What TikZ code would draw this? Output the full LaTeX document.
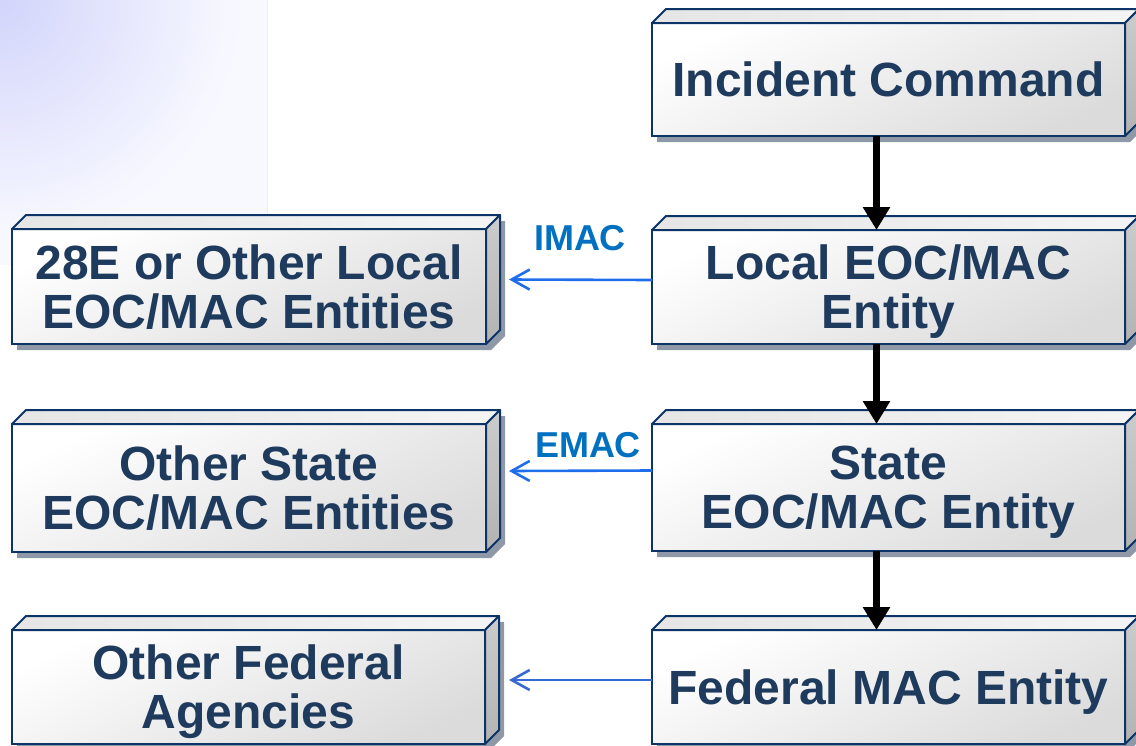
\documentclass[tikz,border=0pt]{standalone}
\usepackage{fontspec}
\setmainfont{Liberation Sans}
\usetikzlibrary{arrows.meta,backgrounds,calc}
\definecolor{navyline}{RGB}{12,52,102}
\definecolor{navytext}{RGB}{30,58,92}
\definecolor{labelblue}{RGB}{0,112,192}
\definecolor{arrowblue}{RGB}{30,110,235}
\definecolor{arrowblueb}{RGB}{55,105,210}
\definecolor{shadowgray}{RGB}{142,152,166}
\definecolor{lavA}{RGB}{210,212,251}
\definecolor{lavC}{RGB}{248,249,255}
\definecolor{lavline}{RGB}{236,238,248}
\tikzset{
 frontface/.style={draw=navyline, line width=2pt, top color=white, bottom color=black!14, shading angle=25, inner sep=0pt, outer sep=0pt, anchor=north west, align=center, text depth=0pt, text=navytext, font=\bfseries\fontsize{48}{49}\selectfont},
 topface/.style={draw=navyline, line width=2pt, line join=round, left color=black!10, right color=black!4},
 sideface/.style={draw=navyline, line width=2pt, line join=round, top color=black!20, bottom color=black!30},
 shadowface/.style={fill=shadowgray},
 flow/.style={line width=6.5pt, -{Triangle[length=23pt,width=26pt]}},
 assist/.style={line width=2.6pt, draw=arrowblue, -{Straight Barb[length=18pt,width=20pt,line width=2.6pt]}},
 lbl/.style={text=labelblue, font=\bfseries\fontsize{36}{38}\selectfont, inner sep=0pt}
}
\newcommand{\cubebox}[6]{%
  \node[frontface, minimum width=#4pt, minimum height=#5pt] (#1) at (#2,#3) {#6};
  \begin{pgfonlayer}{background}
    \fill[shadowface] ([shift={(5,6)}]#1.south west) -- ([shift={(5,6)}]#1.north west) -- ([shift={(19,-8)}]#1.north west) -- ([shift={(19,-8)}]#1.north east) -- ([shift={(19,-8)}]#1.south east) -- ([shift={(5,6)}]#1.south east) -- cycle;
  \end{pgfonlayer}
  \draw[topface] (#1.north west) -- ([shift={(14,-14)}]#1.north west) -- ([shift={(14,-14)}]#1.north east) -- (#1.north east) -- cycle;
  \draw[sideface] (#1.north east) -- ([shift={(14,-14)}]#1.north east) -- ([shift={(14,-14)}]#1.south east) -- (#1.south east) -- cycle;
}
\begin{document}
\begin{tikzpicture}[x=1pt,y=-1pt]
\useasboundingbox (0,0) rectangle (1136,745);
\begin{pgfonlayer}{background}
  \begin{scope}
    \clip (0,0) rectangle (267,265);
    \fill[lavC] (0,0) rectangle (267,265);
    \foreach \r in {240,236,...,4} {
      \pgfmathsetmacro\p{100*(1-\r/244)}
      \fill[lavA!\p!lavC] (0,0) circle (\r pt);
    }
  \end{scope}
  \draw[lavline, line width=0.8pt] (267,0) -- (267,265);
\end{pgfonlayer}

\cubebox{ic}{652}{23}{473}{113}{Incident Command}
\cubebox{local}{652}{230}{473}{114}{Local EOC/MAC\\Entity}
\cubebox{state}{652}{424}{473}{127}{State\\EOC/MAC Entity}
\cubebox{fed}{652}{630}{473}{114}{Federal MAC Entity}
\cubebox{lcl}{12}{229}{474}{115}{28E or Other Local\\EOC/MAC Entities}
\cubebox{ost}{12}{424}{474}{128}{Other State\\EOC/MAC Entities}
\cubebox{ofa}{12}{630}{473}{114}{Other Federal\\Agencies}

\draw[flow] ([xshift=-12pt]ic.south) -- ([xshift=-12pt]local.north);
\draw[flow] ([xshift=-12pt]local.south) -- ([xshift=-12pt]state.north);
\draw[flow] ([xshift=-12pt]state.south) -- ([xshift=-12pt]fed.north);

\draw[assist] ([yshift=7pt]local.west) -- ([xshift=23pt,yshift=7pt]lcl.east);
\draw[assist] ([yshift=17pt]state.west) -- ([xshift=23pt,yshift=17pt]ost.east);
\draw[assist, draw=arrowblueb] ([yshift=7pt]fed.west) -- ([xshift=24pt,yshift=7pt]ofa.east);

\node[lbl] (imac) at (580,238) {IMAC};
\node[lbl] (emac) at (588,445) {EMAC};
\end{tikzpicture}
\end{document}
